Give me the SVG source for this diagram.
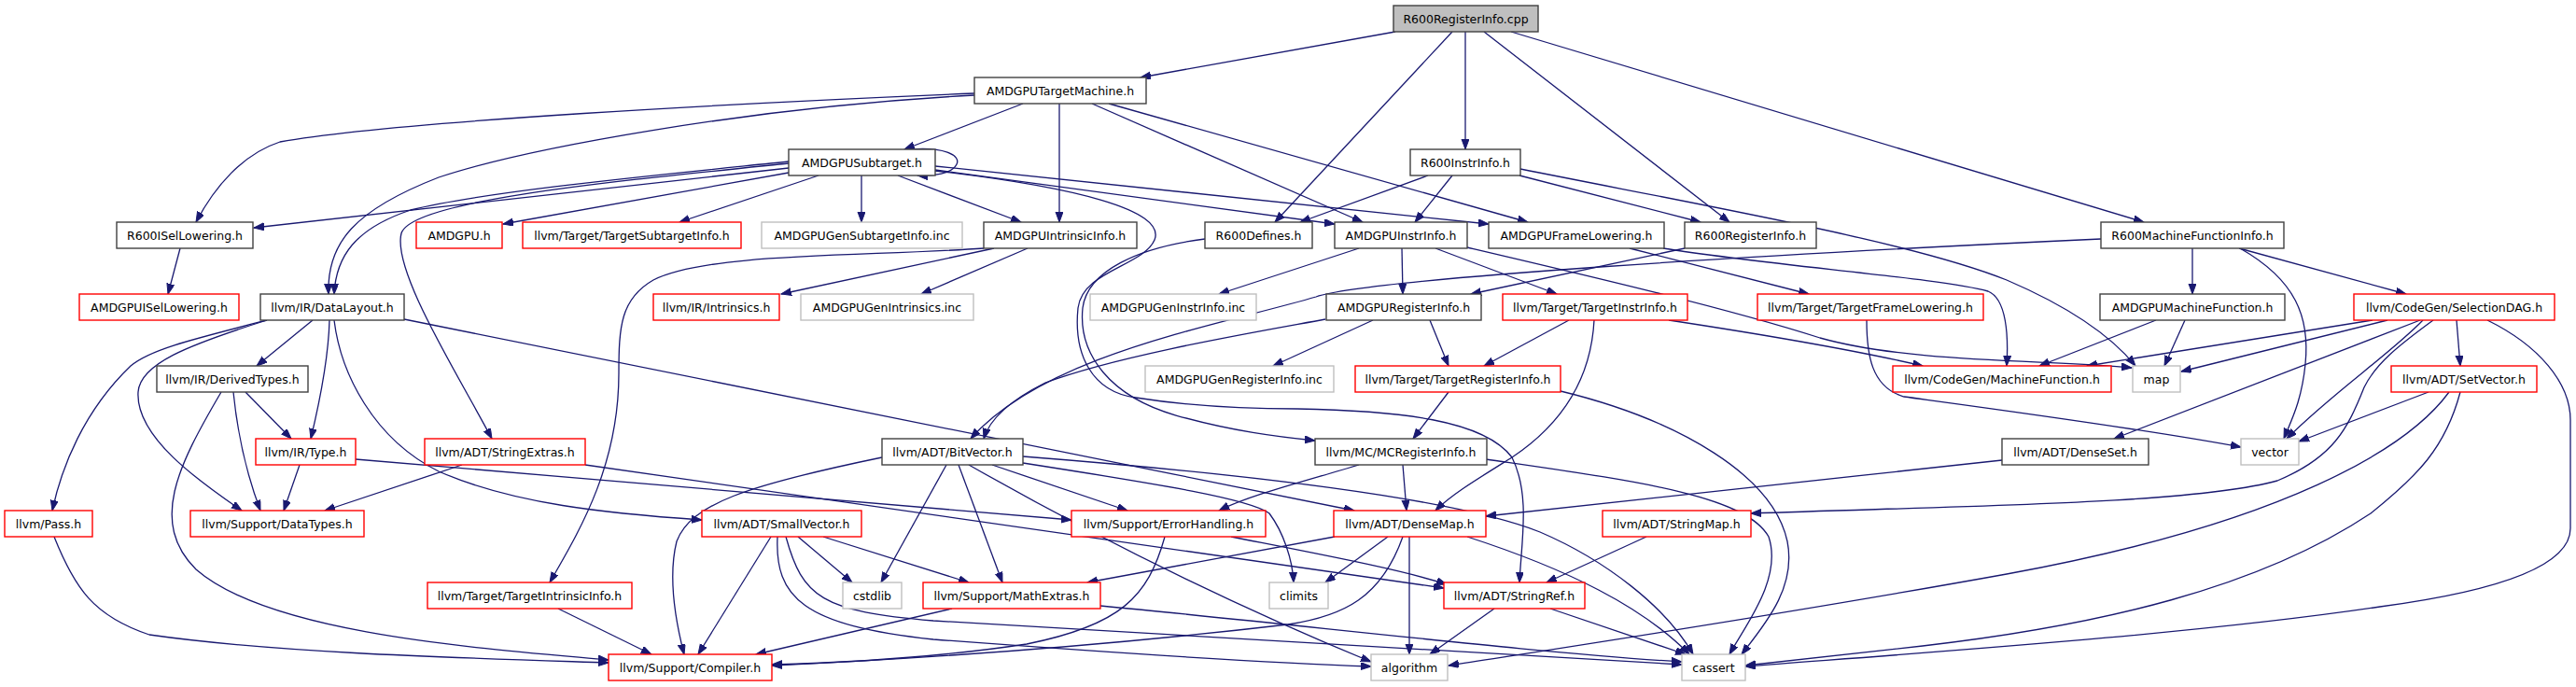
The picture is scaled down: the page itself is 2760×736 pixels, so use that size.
<svg xmlns="http://www.w3.org/2000/svg" width="2760" height="736" viewBox="0 0 2760 736">
<style>
.e{fill:none;stroke:#191970;stroke-width:1.3;marker-end:url(#a)}
rect{fill:#fff;stroke-width:1.4}
.b rect{stroke:#404040}
.r rect{stroke:#ff0000}
.g rect{stroke:#bfbfbf}
.root rect{fill:#bfbfbf;stroke:#404040}
text{font-family:"DejaVu Sans","Liberation Sans",sans-serif;font-size:12.5px;text-anchor:middle;fill:#000}
</style>
<defs>
<marker id="a" markerUnits="userSpaceOnUse" markerWidth="12" markerHeight="9" refX="11" refY="4" orient="auto">
<path d="M0,0 L11,4 L0,8 z" fill="#191970" stroke="#191970" stroke-width="1"/>
</marker>
</defs>
<rect width="2760" height="736" fill="#fff" style="stroke:none"/>
<g id="edges">
<path class="e" d="M1495,34 L1222,83"/>
<path class="e" d="M1556,34 L1366,238"/>
<path class="e" d="M1570,34 L1570,160"/>
<path class="e" d="M1590,34 L1853,238"/>
<path class="e" d="M1619,34 L2297,238"/>
<path class="e" d="M1044,100 C800,110 420,130 300,152 C260,165 230,200 210,238"/>
<path class="e" d="M1044,102 C800,115 560,160 470,190 C380,225 350,260 352,315"/>
<path class="e" d="M1096,111 L969,160"/>
<path class="e" d="M1135,111 L1135,238"/>
<path class="e" d="M1170,111 L1460,238"/>
<path class="e" d="M1188,111 L1637,238"/>
<path class="e" d="M975,160 C1010,157 1030,166 1025,176 C1020,186 1000,189 983,188"/>
<path class="e" d="M845,180 L272,244"/>
<path class="e" d="M845,173 C700,188 520,205 440,225 C380,245 360,275 358,315"/>
<path class="e" d="M845,185 L539,240"/>
<path class="e" d="M877,188 L728,238"/>
<path class="e" d="M923,188 L923,238"/>
<path class="e" d="M962,188 L1094,238"/>
<path class="e" d="M845,175 C650,195 440,215 430,250 C420,290 490,400 527,470"/>
<path class="e" d="M1002,182 L1430,240"/>
<path class="e" d="M1002,178 L1595,240"/>
<path class="e" d="M1002,183 C1150,200 1250,225 1237,257 C1225,285 1160,290 1155,330 C1150,380 1170,420 1217,426 C1280,436 1340,438 1390,438 C1500,440 1590,450 1620,490 C1640,530 1630,580 1628,624"/>
<path class="e" d="M1291,256 C1220,265 1165,290 1160,330 C1155,380 1190,425 1260,445 C1320,462 1370,468 1409,472"/>
<path class="e" d="M1530,188 L1393,238"/>
<path class="e" d="M1556,188 L1516,238"/>
<path class="e" d="M1628,188 L1822,238"/>
<path class="e" d="M1629,181 C1850,225 2050,260 2150,300 C2220,330 2262,360 2288,392"/>
<path class="e" d="M1065,266 L837,315"/>
<path class="e" d="M1101,266 L987,315"/>
<path class="e" d="M1054,266 C930,275 760,270 700,300 C665,320 663,350 663,400 C663,500 620,570 589,624"/>
<path class="e" d="M1502,266 L1503,315"/>
<path class="e" d="M1538,266 L1668,315"/>
<path class="e" d="M1456,266 L1306,315"/>
<path class="e" d="M1572,265 C1700,295 1850,330 1950,362 C2050,390 2200,385 2284,394"/>
<path class="e" d="M1746,266 L1938,315"/>
<path class="e" d="M1782,266 C1900,285 2080,298 2130,312 C2150,320 2152,360 2150,392"/>
<path class="e" d="M1805,266 L1576,315"/>
<path class="e" d="M2349,266 L2349,315"/>
<path class="e" d="M2399,266 L2578,315"/>
<path class="e" d="M2400,266 C2460,300 2475,340 2470,390 C2466,430 2455,450 2447,470"/>
<path class="e" d="M2251,256 C1900,272 1470,298 1410,318 C1300,350 1120,380 1040,470"/>
<path class="e" d="M286,343 C200,365 160,375 140,392 C90,440 66,500 56,547"/>
<path class="e" d="M286,343 C200,370 150,390 148,420 C145,470 220,520 259,547"/>
<path class="e" d="M335,343 L275,392"/>
<path class="e" d="M353,343 C352,380 345,420 333,470"/>
<path class="e" d="M358,343 C365,400 400,470 470,505 C550,540 650,550 752,557"/>
<path class="e" d="M433,342 L1451,547"/>
<path class="e" d="M263,420 L312,470"/>
<path class="e" d="M250,420 C255,470 265,510 279,547"/>
<path class="e" d="M237,420 C190,500 160,560 210,610 C290,680 520,695 652,707"/>
<path class="e" d="M321,498 L304,547"/>
<path class="e" d="M381,492 L1148,557"/>
<path class="e" d="M495,498 L348,547"/>
<path class="e" d="M627,498 L1547,630"/>
<path class="e" d="M945,490 C800,520 740,540 725,580 C715,620 725,670 733,701"/>
<path class="e" d="M1014,498 L944,624"/>
<path class="e" d="M1027,498 L1074,624"/>
<path class="e" d="M1038,498 C1200,590 1350,660 1469,709"/>
<path class="e" d="M1063,498 L1208,547"/>
<path class="e" d="M1096,489 C1300,505 1550,530 1650,570 C1720,600 1785,650 1814,701"/>
<path class="e" d="M1096,496 C1250,520 1340,535 1360,550 C1375,570 1385,600 1386,624"/>
<path class="e" d="M826,575 L748,701"/>
<path class="e" d="M855,575 L913,624"/>
<path class="e" d="M882,575 L1038,624"/>
<path class="e" d="M833,575 C830,640 860,670 1000,685 C1200,700 1350,710 1469,714"/>
<path class="e" d="M842,575 C860,640 880,655 1000,665 C1300,685 1600,700 1802,712"/>
<path class="e" d="M1020,652 L810,701"/>
<path class="e" d="M1179,649 C1400,670 1650,700 1802,709"/>
<path class="e" d="M1248,575 C1230,640 1200,670 1100,690 C1000,705 900,710 827,712"/>
<path class="e" d="M1319,575 C1420,595 1500,610 1550,626"/>
<path class="e" d="M1430,575 L1165,624"/>
<path class="e" d="M1487,575 L1420,624"/>
<path class="e" d="M1503,575 C1480,640 1440,660 1380,669 C1200,690 1000,705 827,713"/>
<path class="e" d="M1510,575 L1510,701"/>
<path class="e" d="M1572,575 C1680,610 1760,650 1810,701"/>
<path class="e" d="M1503,498 L1507,547"/>
<path class="e" d="M1456,498 C1400,515 1340,530 1306,547"/>
<path class="e" d="M1592,492 C1750,515 1870,530 1895,575 C1910,620 1870,670 1853,701"/>
<path class="e" d="M1552,420 L1514,470"/>
<path class="e" d="M1672,419 C1800,450 1900,510 1915,580 C1925,630 1890,670 1866,701"/>
<path class="e" d="M1532,343 L1552,392"/>
<path class="e" d="M1681,343 L1590,392"/>
<path class="e" d="M1471,343 L1364,392"/>
<path class="e" d="M1420,342 C1350,355 1200,380 1120,410 C1080,430 1060,450 1054,470"/>
<path class="e" d="M1708,343 C1705,400 1680,450 1620,490 C1580,515 1555,530 1538,547"/>
<path class="e" d="M1788,343 C1900,360 2000,378 2060,392"/>
<path class="e" d="M2000,343 C2000,380 2005,415 2040,425 C2150,440 2300,460 2401,479"/>
<path class="e" d="M2310,343 L2185,392"/>
<path class="e" d="M2341,343 L2319,392"/>
<path class="e" d="M2542,343 L2236,392"/>
<path class="e" d="M2558,343 L2337,398"/>
<path class="e" d="M2593,343 L2265,470"/>
<path class="e" d="M2596,343 C2560,380 2500,420 2450,470"/>
<path class="e" d="M2607,343 C2570,370 2545,390 2533,415 C2515,460 2500,490 2440,515 C2350,540 2100,542 1876,550"/>
<path class="e" d="M2632,343 L2636,392"/>
<path class="e" d="M2665,343 C2720,370 2754,410 2754,450 L2754,566 C2754,600 2700,630 2550,650 C2350,680 2050,700 1870,714"/>
<path class="e" d="M2602,420 L2463,473"/>
<path class="e" d="M2624,420 C2580,480 2450,560 2150,615 C1900,660 1700,690 1552,713"/>
<path class="e" d="M2636,420 C2620,480 2590,510 2540,550 C2420,630 2250,670 2060,692 L1870,713"/>
<path class="e" d="M2145,493 L1592,553"/>
<path class="e" d="M1764,575 L1657,624"/>
<path class="e" d="M1601,652 L1532,701"/>
<path class="e" d="M1661,652 L1806,701"/>
<path class="e" d="M58,575 C80,630 100,660 160,680 C300,700 500,705 652,710"/>
<path class="e" d="M598,652 L698,701"/>
<path class="e" d="M193,266 L180,315"/>
</g>
<g id="n0" class="root"><rect x="1493" y="6" width="155" height="28"/><text x="1570.5" y="25">R600RegisterInfo.cpp</text></g>
<g id="n1" class="b"><rect x="1044" y="83" width="184" height="28"/><text x="1136" y="102">AMDGPUTargetMachine.h</text></g>
<g id="n2" class="b"><rect x="845" y="160" width="157" height="28"/><text x="923.5" y="179">AMDGPUSubtarget.h</text></g>
<g id="n3" class="b"><rect x="1511" y="160" width="118" height="28"/><text x="1570" y="179">R600InstrInfo.h</text></g>
<g id="n4" class="b"><rect x="125" y="238" width="146" height="28"/><text x="198" y="257">R600ISelLowering.h</text></g>
<g id="n5" class="r"><rect x="446" y="238" width="92" height="28"/><text x="492" y="257">AMDGPU.h</text></g>
<g id="n6" class="r"><rect x="560" y="238" width="234" height="28"/><text x="677" y="257">llvm/Target/TargetSubtargetInfo.h</text></g>
<g id="n7" class="g"><rect x="816" y="238" width="215" height="28"/><text x="923.5" y="257">AMDGPUGenSubtargetInfo.inc</text></g>
<g id="n8" class="b"><rect x="1054" y="238" width="164" height="28"/><text x="1136" y="257">AMDGPUIntrinsicInfo.h</text></g>
<g id="n9" class="b"><rect x="1291" y="238" width="115" height="28"/><text x="1348.5" y="257">R600Defines.h</text></g>
<g id="n10" class="b"><rect x="1430" y="238" width="142" height="28"/><text x="1501" y="257">AMDGPUInstrInfo.h</text></g>
<g id="n11" class="b"><rect x="1595" y="238" width="188" height="28"/><text x="1689" y="257">AMDGPUFrameLowering.h</text></g>
<g id="n12" class="b"><rect x="1805" y="238" width="141" height="28"/><text x="1875.5" y="257">R600RegisterInfo.h</text></g>
<g id="n13" class="b"><rect x="2251" y="238" width="196" height="28"/><text x="2349" y="257">R600MachineFunctionInfo.h</text></g>
<g id="n14" class="r"><rect x="85" y="315" width="171" height="28"/><text x="170.5" y="334">AMDGPUISelLowering.h</text></g>
<g id="n15" class="b"><rect x="279" y="315" width="154" height="28"/><text x="356" y="334">llvm/IR/DataLayout.h</text></g>
<g id="n16" class="r"><rect x="700" y="315" width="135" height="28"/><text x="767.5" y="334">llvm/IR/Intrinsics.h</text></g>
<g id="n17" class="g"><rect x="858" y="315" width="185" height="28"/><text x="950.5" y="334">AMDGPUGenIntrinsics.inc</text></g>
<g id="n18" class="g"><rect x="1168" y="315" width="178" height="28"/><text x="1257" y="334">AMDGPUGenInstrInfo.inc</text></g>
<g id="n19" class="b"><rect x="1421" y="315" width="166" height="28"/><text x="1504" y="334">AMDGPURegisterInfo.h</text></g>
<g id="n20" class="r"><rect x="1610" y="315" width="198" height="28"/><text x="1709" y="334">llvm/Target/TargetInstrInfo.h</text></g>
<g id="n21" class="r"><rect x="1883" y="315" width="242" height="28"/><text x="2004" y="334">llvm/Target/TargetFrameLowering.h</text></g>
<g id="n22" class="b"><rect x="2250" y="315" width="198" height="28"/><text x="2349" y="334">AMDGPUMachineFunction.h</text></g>
<g id="n23" class="r"><rect x="2522" y="315" width="215" height="28"/><text x="2629.5" y="334">llvm/CodeGen/SelectionDAG.h</text></g>
<g id="n24" class="b"><rect x="168" y="392" width="162" height="28"/><text x="249" y="411">llvm/IR/DerivedTypes.h</text></g>
<g id="n25" class="g"><rect x="1227" y="392" width="202" height="28"/><text x="1328" y="411">AMDGPUGenRegisterInfo.inc</text></g>
<g id="n26" class="r"><rect x="1452" y="392" width="220" height="28"/><text x="1562" y="411">llvm/Target/TargetRegisterInfo.h</text></g>
<g id="n27" class="r"><rect x="2028" y="392" width="234" height="28"/><text x="2145" y="411">llvm/CodeGen/MachineFunction.h</text></g>
<g id="n28" class="g"><rect x="2285" y="392" width="51" height="28"/><text x="2310.5" y="411">map</text></g>
<g id="n29" class="r"><rect x="2562" y="392" width="156" height="28"/><text x="2640" y="411">llvm/ADT/SetVector.h</text></g>
<g id="n30" class="r"><rect x="274" y="470" width="107" height="28"/><text x="327.5" y="489">llvm/IR/Type.h</text></g>
<g id="n31" class="r"><rect x="455" y="470" width="172" height="28"/><text x="541" y="489">llvm/ADT/StringExtras.h</text></g>
<g id="n32" class="b"><rect x="945" y="470" width="151" height="28"/><text x="1020.5" y="489">llvm/ADT/BitVector.h</text></g>
<g id="n33" class="b"><rect x="1409" y="470" width="184" height="28"/><text x="1501" y="489">llvm/MC/MCRegisterInfo.h</text></g>
<g id="n34" class="b"><rect x="2145" y="470" width="157" height="28"/><text x="2223.5" y="489">llvm/ADT/DenseSet.h</text></g>
<g id="n35" class="g"><rect x="2401" y="470" width="62" height="28"/><text x="2432" y="489">vector</text></g>
<g id="n36" class="r"><rect x="5" y="547" width="94" height="28"/><text x="52" y="566">llvm/Pass.h</text></g>
<g id="n37" class="r"><rect x="204" y="547" width="186" height="28"/><text x="297" y="566">llvm/Support/DataTypes.h</text></g>
<g id="n38" class="r"><rect x="752" y="547" width="171" height="28"/><text x="837.5" y="566">llvm/ADT/SmallVector.h</text></g>
<g id="n39" class="r"><rect x="1148" y="547" width="208" height="28"/><text x="1252" y="566">llvm/Support/ErrorHandling.h</text></g>
<g id="n40" class="r"><rect x="1429" y="547" width="163" height="28"/><text x="1510.5" y="566">llvm/ADT/DenseMap.h</text></g>
<g id="n41" class="r"><rect x="1717" y="547" width="159" height="28"/><text x="1796.5" y="566">llvm/ADT/StringMap.h</text></g>
<g id="n42" class="r"><rect x="458" y="624" width="219" height="28"/><text x="567.5" y="643">llvm/Target/TargetIntrinsicInfo.h</text></g>
<g id="n43" class="g"><rect x="903" y="624" width="63" height="28"/><text x="934.5" y="643">cstdlib</text></g>
<g id="n44" class="r"><rect x="989" y="624" width="190" height="28"/><text x="1084" y="643">llvm/Support/MathExtras.h</text></g>
<g id="n45" class="g"><rect x="1360" y="624" width="63" height="28"/><text x="1391.5" y="643">climits</text></g>
<g id="n46" class="r"><rect x="1547" y="624" width="151" height="28"/><text x="1622.5" y="643">llvm/ADT/StringRef.h</text></g>
<g id="n47" class="r"><rect x="652" y="701" width="175" height="28"/><text x="739.5" y="720">llvm/Support/Compiler.h</text></g>
<g id="n48" class="g"><rect x="1469" y="701" width="82" height="28"/><text x="1510" y="720">algorithm</text></g>
<g id="n49" class="g"><rect x="1802" y="701" width="68" height="28"/><text x="1836" y="720">cassert</text></g>
</svg>
